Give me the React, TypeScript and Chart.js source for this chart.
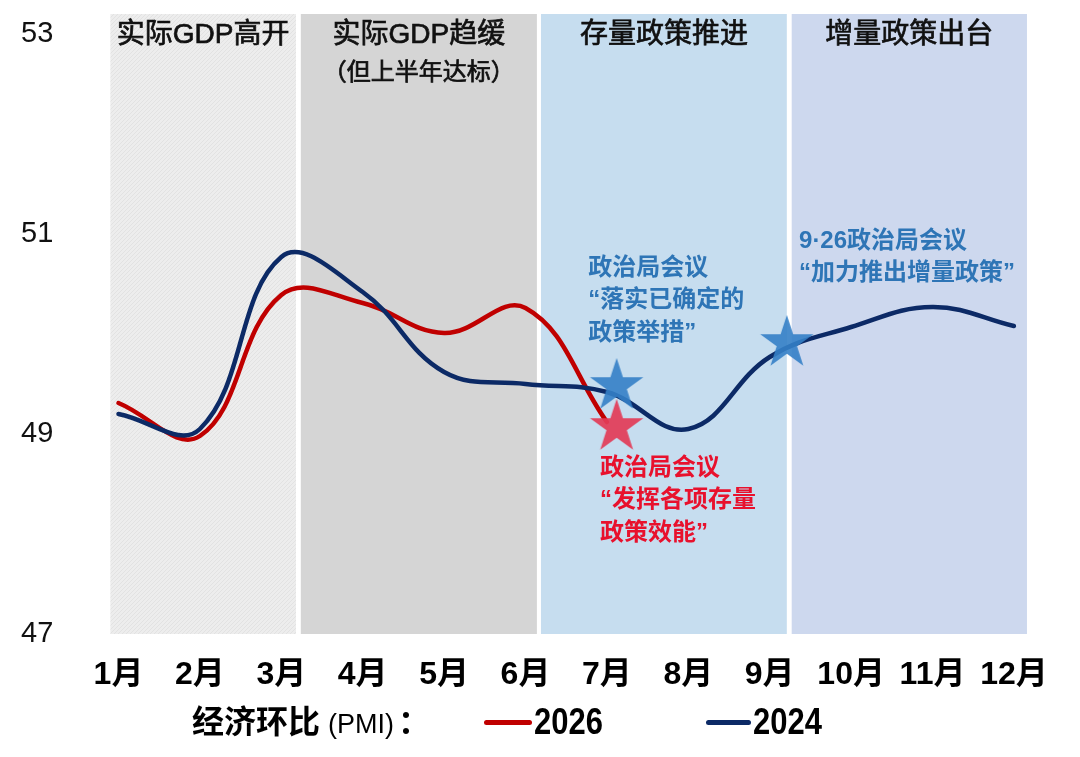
import React, { useEffect, useRef } from 'react';
import { Chart, registerables } from 'chart.js';

Chart.register(...registerables);

// ---- data ----
const monthLabels = ['1月', '2月', '3月', '4月', '5月', '6月', '7月', '8月', '9月', '10月', '11月', '12月'];
const monthIndex = [1, 2, 3, 4, 5, 6, 7, 8, 9, 10, 11, 12];
const pmi2026 = [49.31, 48.98, 50.39, 50.31, 50.01, 50.26, 49.12];
const pmi2024 = [49.2, 49.05, 50.77, 50.42, 49.62, 49.5, 49.42, 49.05, 49.77, 50.07, 50.27, 50.08];
const yTickValues = [47, 49, 51, 53];

const phaseLabels = ['实际GDP高开', '实际GDP趋缓', '存量政策推进', '增量政策出台'];
const phaseSubLabels = ['', '（但上半年达标）', '', ''];
const phaseStart = [0.9, 3.24, 6.19, 9.27];
const phaseEnd = [3.18, 6.14, 9.21, 12.16];

const blueStarPoints = [
  { x: 7.12, y: 49.48 },
  { x: 9.21, y: 49.91 },
];
const redStarPoints = [{ x: 7.12, y: 49.07 }];

const noteBlueJuly = ['政治局会议', '“落实已确定的', '政策举措”'];
const noteBlueSept = ['9·26政治局会议', '“加力推出增量政策”'];
const noteRedJuly = ['政治局会议', '“发挥各项存量', '政策效能”'];

// ---- styles ----
const fontStack = '"Liberation Sans", "Noto Sans CJK SC", sans-serif';
const narrowStack = '"Liberation Sans Narrow", "Liberation Sans", "Noto Sans CJK SC", sans-serif';
const phaseColors = ['#ebebeb', '#d5d5d5', '#c6ddef', '#cdd8ee'];
const bandTopValue = 53.2;
const headerLevel = 52.99;
const subHeaderLevel = 52.61;
const blueText = '#2e75b6';
const redText = '#e8112d';

const notes = [
  { x: 6.77, y: 50.66, lines: noteBlueJuly, color: blueText },
  { x: 9.36, y: 50.93, lines: noteBlueSept, color: blueText },
  { x: 6.915, y: 48.66, lines: noteRedJuly, color: redText },
];

function makeStar(color: string, R: number): HTMLCanvasElement {
  const c = document.createElement('canvas');
  const size = Math.ceil(R * 2 + 4);
  c.width = size;
  c.height = size;
  const g = c.getContext('2d')!;
  const cx = size / 2;
  const cy = size / 2;
  g.beginPath();
  for (let i = 0; i < 10; i++) {
    const r = i % 2 === 0 ? R : R * 0.382;
    const a = -Math.PI / 2 + (i * Math.PI) / 5;
    const px = cx + r * Math.cos(a);
    const py = cy + r * Math.sin(a);
    if (i === 0) g.moveTo(px, py);
    else g.lineTo(px, py);
  }
  g.closePath();
  g.fillStyle = color;
  g.fill();
  return c;
}

function makeHatch(ctx: CanvasRenderingContext2D): CanvasPattern | string {
  const c = document.createElement('canvas');
  c.width = 4;
  c.height = 4;
  const g = c.getContext('2d');
  if (!g) return phaseColors[0];
  g.fillStyle = '#ededed';
  g.fillRect(0, 0, 4, 4);
  g.fillStyle = '#e2e2e2';
  for (let i = 0; i < 4; i++) g.fillRect(i, 3 - i, 1, 1);
  return ctx.createPattern(c, 'repeat') || phaseColors[0];
}

const phasePlugin = {
  id: 'phasePlugin',
  beforeDatasetsDraw(chart: any) {
    const { ctx } = chart;
    const x = chart.scales.x;
    const y = chart.scales.y;
    const top = y.getPixelForValue(bandTopValue);
    const bottom = y.getPixelForValue(47);
    ctx.save();
    phaseStart.forEach((s, i) => {
      const l = x.getPixelForValue(s);
      const r = x.getPixelForValue(phaseEnd[i]);
      ctx.fillStyle = i === 0 ? makeHatch(ctx) : phaseColors[i];
      ctx.fillRect(l, top, r - l, bottom - top);
      ctx.fillStyle = '#111111';
      ctx.strokeStyle = '#111111';
      ctx.lineWidth = 0.7;
      ctx.textAlign = 'center';
      ctx.textBaseline = 'middle';
      ctx.font = `28px ${fontStack}`;
      const cx = (l + r) / 2;
      const hy = y.getPixelForValue(headerLevel);
      ctx.fillText(phaseLabels[i], cx, hy);
      ctx.strokeText(phaseLabels[i], cx, hy);
      if (phaseSubLabels[i]) {
        ctx.font = `24px ${fontStack}`;
        const sy = y.getPixelForValue(subHeaderLevel);
        ctx.fillText(phaseSubLabels[i], cx, sy);
        ctx.strokeText(phaseSubLabels[i], cx, sy);
      }
    });
    ctx.restore();
  },
  afterDatasetsDraw(chart: any) {
    const { ctx } = chart;
    const x = chart.scales.x;
    const y = chart.scales.y;
    ctx.save();
    ctx.textAlign = 'left';
    ctx.textBaseline = 'middle';
    ctx.font = `bold 24px ${fontStack}`;
    notes.forEach((n) => {
      ctx.fillStyle = n.color;
      const px = x.getPixelForValue(n.x);
      const py = y.getPixelForValue(n.y);
      n.lines.forEach((line, k) => {
        ctx.fillText(line, px, py + k * 32.5);
      });
    });
    ctx.restore();
  },
};

export default function App() {
  const ref = useRef<HTMLCanvasElement>(null);

  useEffect(() => {
    document.body.style.margin = '0';
    const canvas = ref.current;
    if (!canvas) return;
    const blueStar = makeStar('rgba(52, 127, 199, 0.9)', 28);
    const redStar = makeStar('rgba(226, 60, 88, 0.93)', 28);

    const chart = new Chart(canvas, {
      type: 'line',
      data: {
        datasets: [
          {
            label: '2026',
            data: pmi2026.map((v, i) => ({ x: monthIndex[i], y: v })),
            borderColor: '#c00000',
            borderWidth: 4.5,
            tension: 0.4,
            pointRadius: 0,
            borderCapStyle: 'round',
            borderJoinStyle: 'round',
            fill: false,
            order: 3,
          },
          {
            label: '2024',
            data: pmi2024.map((v, i) => ({ x: monthIndex[i], y: v })),
            borderColor: '#0c2a66',
            borderWidth: 4.5,
            tension: 0.4,
            pointRadius: 0,
            borderCapStyle: 'round',
            borderJoinStyle: 'round',
            fill: false,
            order: 2,
          },
          {
            type: 'scatter',
            label: 'blueStars',
            data: blueStarPoints,
            pointStyle: blueStar as any,
            pointRadius: 28,
            showLine: false,
            order: 1,
          } as any,
          {
            type: 'scatter',
            label: 'redStars',
            data: redStarPoints,
            pointStyle: redStar as any,
            pointRadius: 28,
            showLine: false,
            order: 0,
          } as any,
        ],
      },
      options: {
        animation: false,
        responsive: true,
        maintainAspectRatio: false,
        events: [],
        layout: { padding: { left: 21, right: 33.5, top: 34, bottom: 0 } },
        plugins: {
          legend: { display: false },
          tooltip: { enabled: false },
        },
        scales: {
          x: {
            type: 'linear',
            min: 0.8,
            max: 12.4,
            grid: { display: false, drawTicks: false },
            border: { display: false },
            afterBuildTicks: (scale: any) => {
              scale.ticks = monthIndex.map((v) => ({ value: v }));
            },
            afterFit: (scale: any) => {
              scale.height = 123;
            },
            ticks: {
              autoSkip: false,
              maxRotation: 0,
              padding: 22,
              color: '#000000',
              font: { family: narrowStack, size: 32, weight: 'bold' },
              callback: (value: any) => monthLabels[Number(value) - 1] ?? '',
            },
          },
          y: {
            type: 'linear',
            min: 47,
            max: 53,
            grid: { display: false, drawTicks: false },
            border: { display: false },
            afterBuildTicks: (scale: any) => {
              scale.ticks = yTickValues.map((v) => ({ value: v }));
            },
            afterFit: (scale: any) => {
              scale.width = 81.2;
            },
            ticks: {
              padding: 0,
              crossAlign: 'far',
              color: '#111111',
              font: { family: fontStack, size: 29 },
            },
          },
        },
      } as any,
      plugins: [phasePlugin],
    });

    return () => chart.destroy();
  }, []);

  const legendText: React.CSSProperties = {
    position: 'absolute',
    top: 700,
    height: 44,
    lineHeight: '44px',
    color: '#000',
    whiteSpace: 'nowrap',
  };

  return (
    <div style={{ position: 'relative', width: 1080, height: 757, background: '#ffffff' }}>
      <canvas ref={ref} />
      <div style={{ ...legendText, left: 192, fontFamily: fontStack, fontWeight: 'bold', fontSize: 32 }}>
        经济环比
        <span style={{ fontSize: 27, fontWeight: 'normal', marginLeft: 8 }}>(PMI)</span>
        <span style={{ marginLeft: 4 }}>：</span>
      </div>
      <div style={{ position: 'absolute', left: 484, top: 719.5, width: 48, height: 5, borderRadius: 3, background: '#c00000' }} />
      <div style={{ ...legendText, left: 534, fontFamily: narrowStack, fontWeight: 'bold', fontSize: 36, transform: 'scaleX(0.86)', transformOrigin: 'left center' }}>2026</div>
      <div style={{ position: 'absolute', left: 706, top: 719.5, width: 45, height: 5, borderRadius: 3, background: '#0c2a66' }} />
      <div style={{ ...legendText, left: 753, fontFamily: narrowStack, fontWeight: 'bold', fontSize: 36, transform: 'scaleX(0.86)', transformOrigin: 'left center' }}>2024</div>
    </div>
  );
}
